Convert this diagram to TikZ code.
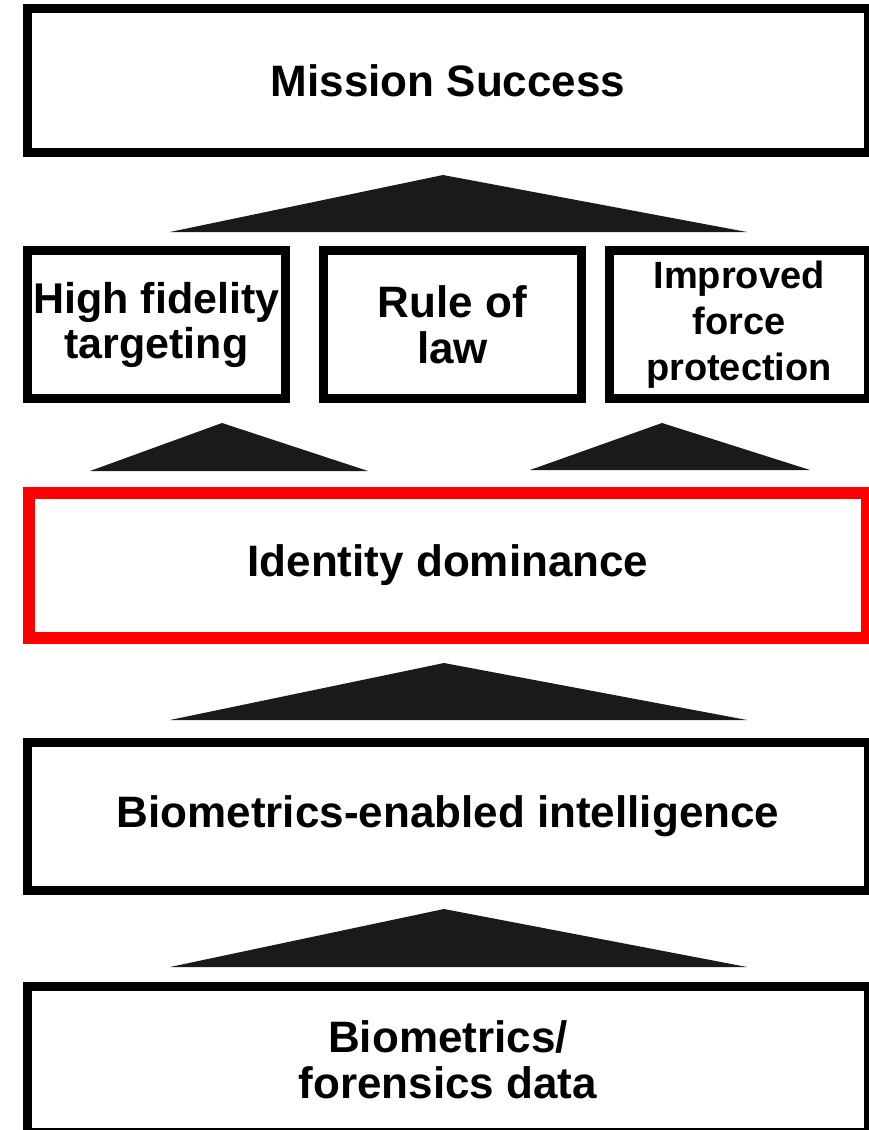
\documentclass[tikz,border=0pt]{standalone}
\usepackage{xcolor}
\usepackage{fontspec}
\setmainfont{Liberation Sans}
\usepackage{tikz}

\definecolor{trigray}{HTML}{1A1A1A}
\definecolor{idred}{HTML}{FF0000}

\begin{document}
\begin{tikzpicture}[x=1pt, y=1pt, every node/.style={
    rectangle,
    draw,
    line width=9pt,
    inner sep=0pt,
    align=center,
    font=\fontsize{44}{46}\selectfont\bfseries,
  }, tri/.style={fill=trigray}]

  \useasboundingbox (0,0) rectangle (869,-1130);

  \node[minimum width=841pt, minimum height=144pt] (success) at (448,-80.5) {Mission Success};

  \node[minimum width=258pt, minimum height=148pt, font=\fontsize{43}{45}\selectfont\bfseries] (target) at (156.5,-324.5) {High fidelity\\targeting};
  \node[right of=target, minimum width=258pt, minimum height=148pt, node distance=296pt] (law) {Rule of\\law};
  \node[right of=law, minimum width=259pt, minimum height=148pt, node distance=286.5pt, font=\fontsize{38}{46}\selectfont\bfseries] (force) {Improved\\force\\protection};

  \node[minimum width=838pt, minimum height=145pt, draw=idred, line width=12pt] (identity) at (448,-565.5) {Identity dominance};
  \node[minimum width=841pt, minimum height=148pt] (intel) at (448,-816.5) {Biometrics-enabled intelligence};
  \node[minimum width=841pt, minimum height=146pt] (data) at (448,-1059.5) {Biometrics/\\forensics data};

  % support wedges
  \fill[tri] (170,-232) -- (443,-175) -- (747,-232) -- cycle;
  \fill[tri] (90,-471) -- (222,-423) -- (368,-471) -- cycle;
  \fill[tri] (530,-470) -- (662,-423) -- (810,-470) -- cycle;
  \fill[tri] (170,-720) -- (444,-663) -- (747,-720) -- cycle;
  \fill[tri] (170,-967) -- (444,-909) -- (747,-967) -- cycle;

\end{tikzpicture}
\end{document}
